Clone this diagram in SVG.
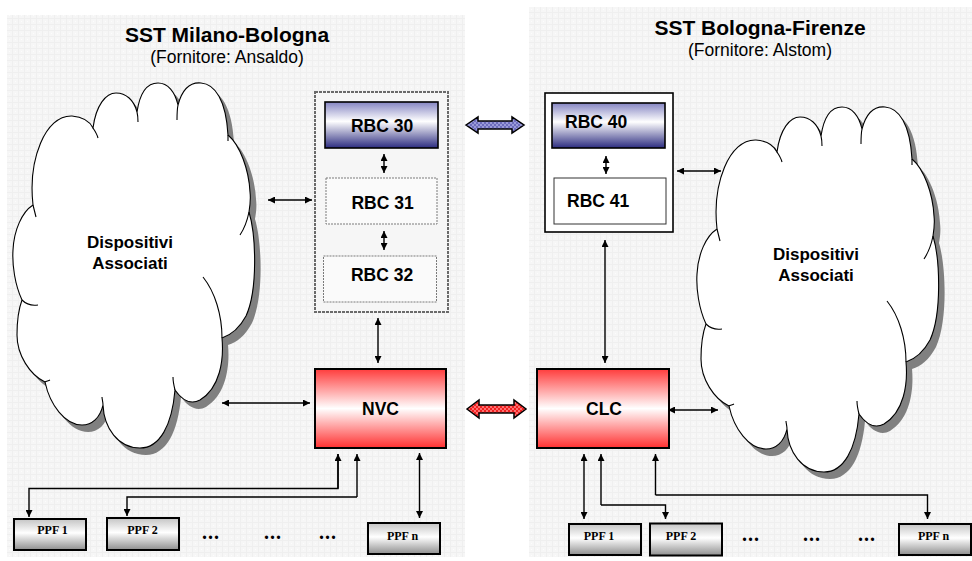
<svg xmlns="http://www.w3.org/2000/svg" xmlns:xlink="http://www.w3.org/1999/xlink" width="972" height="561" viewBox="0 0 972 561">
  <style>
    .title { font-family: "Liberation Sans", Arial, sans-serif; font-weight: bold; font-size: 21px; fill: #000; text-anchor: middle; }
    .sub { font-family: "Liberation Sans", Arial, sans-serif; font-size: 17.5px; fill: #000; text-anchor: middle; }
    .lbl { font-family: "Liberation Sans", Arial, sans-serif; font-weight: bold; font-size: 17.5px; fill: #000; text-anchor: middle; }
    .cl { font-family: "Liberation Sans", Arial, sans-serif; font-weight: bold; font-size: 17px; fill: #000; text-anchor: middle; }
    .lbl-l { font-family: "Liberation Sans", Arial, sans-serif; font-weight: bold; font-size: 17.5px; fill: #000; }
    .ppf { font-family: "Liberation Serif", "Times New Roman", serif; font-weight: bold; font-size: 12px; fill: #000; text-anchor: middle; }
    .dots { font-family: "Liberation Serif", "Times New Roman", serif; font-weight: bold; font-size: 20px; fill: #000; text-anchor: middle; letter-spacing: 1px; }
    .panel { fill: url(#texture); }
    .cloud { fill: #fff; stroke: #000; stroke-width: 1.1; }
    .cloud-shadow { fill: #808080; }
    .tail { fill: none; stroke: #000; stroke-width: 1.1; }
    .conn { fill: none; stroke: #000; stroke-width: 1.4; }
    .two { marker-start: url(#ah); marker-end: url(#ah); }
    .one { marker-end: url(#ah); }
    .box-blue { fill: url(#gBlue); stroke: #000; stroke-width: 1.6; }
    .box-red { fill: url(#gRed); stroke: #000; stroke-width: 2; }
    .box-ppf { fill: url(#gGray); stroke: #000; stroke-width: 2; }
    .box-dot { fill: #fafafa; stroke: #7a7a7a; stroke-width: 1; stroke-dasharray: 2 1; }
  </style>
  <defs>
    <pattern id="texture" width="6" height="6" patternUnits="userSpaceOnUse">
      <rect width="6" height="6" fill="#f6f6f6"/>
      <path d="M0,0.5 H6 M0.5,0 V6" stroke="#efefef" stroke-width="1"/>
      <rect x="3" y="3" width="1" height="1" fill="#fcfcfc"/>
    </pattern>
    <pattern id="chkBlue" width="4" height="4" patternUnits="userSpaceOnUse">
      <rect width="4" height="4" fill="#6c6cbc"/>
      <rect width="2" height="2" fill="#9a9ad8"/>
      <rect x="2" y="2" width="2" height="2" fill="#9a9ad8"/>
    </pattern>
    <pattern id="chkRed" width="4" height="4" patternUnits="userSpaceOnUse">
      <rect width="4" height="4" fill="#f02020"/>
      <rect width="2" height="2" fill="#ff7070"/>
      <rect x="2" y="2" width="2" height="2" fill="#ff7070"/>
    </pattern>
    <linearGradient id="gBlue" x1="0" y1="0" x2="0" y2="1">
      <stop offset="0" stop-color="#8585c2"/>
      <stop offset="0.42" stop-color="#ffffff"/>
      <stop offset="1" stop-color="#2c2c80"/>
    </linearGradient>
    <linearGradient id="gRed" x1="0" y1="0" x2="0" y2="1">
      <stop offset="0" stop-color="#ff3c3c"/>
      <stop offset="0.5" stop-color="#ffffff"/>
      <stop offset="1" stop-color="#ff3030"/>
    </linearGradient>
    <linearGradient id="gGray" x1="0" y1="0" x2="0" y2="1">
      <stop offset="0" stop-color="#c4c4c4"/>
      <stop offset="0.45" stop-color="#ffffff"/>
      <stop offset="1" stop-color="#8e8e8e"/>
    </linearGradient>
    <marker id="ah" viewBox="0 0 10 10" refX="10" refY="5" markerWidth="7" markerHeight="7" markerUnits="userSpaceOnUse" orient="auto-start-reverse">
      <path d="M0,0 L10,5 L0,10 z" fill="#000"/>
    </marker>
    <!-- cloud outline, drawn at the left-hand position -->
    <path id="cloudPath" d="M33,205 C28,160 45,115 72,116 C84,117 90,122 93,128 C96,105 106,93 116,93 C126,93 134,100 137,112 C140,92 148,83 158,83 C168,83 175,92 178,105 C182,90 190,82 201,83 C215,84 226,100 228,135 C240,145 249,170 250,192 C251,200 250,206 249,212 C256,235 258,290 246,316 C239,329 231,335 222,338 C224,360 220,388 200,400 C191,405 182,400 175,390 C172,425 160,448 140,448 C118,448 104,428 103,405 C100,418 92,425 82,425 C65,425 50,405 45,382 C30,375 17,355 17,335 C17,320 19,308 22,300 C15,285 12,265 13,250 C14,230 22,212 33,205 Z"/>
    <g id="cloud">
      <use xlink:href="#cloudPath" href="#cloudPath" class="cloud-shadow" transform="translate(6,7)"/>
      <use xlink:href="#cloudPath" href="#cloudPath" class="cloud"/>
      <path class="tail" d="M33,205 C34,209 35,213 36,217 M22,300 C26,304 32,306 38,305 M45,382 C46,381 48,381 50,380 M103,405 C103,402 102,399 102,397 M175,390 C174,386 173,381 173,377 M222,338 C222,315 215,292 203,277 M249,212 C247,222 244,229 240,235 M228,135 L228,141 M178,105 C177,110 177,115 177,120 M137,112 C138,116 138,119 138,122 M93,128 C95,131 97,134 98,138"/>
    </g>
  </defs>

  <rect width="972" height="561" fill="#fff"/>

  <!-- subsystem panels -->
  <g id="panel-milano-bologna">
    <rect class="panel" x="7" y="15" width="458" height="542"/>
    <text class="title" x="227" y="42">SST Milano-Bologna</text>
    <text class="sub" x="227" y="63">(Fornitore: Ansaldo)</text>
  </g>
  <g id="panel-bologna-firenze">
    <rect class="panel" x="529" y="7" width="443" height="550"/>
    <text class="title" x="760" y="35">SST Bologna-Firenze</text>
    <text class="sub" x="760" y="56">(Fornitore: Alstom)</text>
  </g>

  <!-- associated devices -->
  <g id="cloud-left">
    <use xlink:href="#cloud" href="#cloud"/>
    <text class="cl" x="130" y="248">Dispositivi</text>
    <text class="cl" x="130" y="269">Associati</text>
  </g>
  <g id="cloud-right">
    <use xlink:href="#cloud" href="#cloud" transform="translate(684,24)"/>
    <text class="cl" x="816" y="260">Dispositivi</text>
    <text class="cl" x="816" y="281">Associati</text>
  </g>

  <!-- RBC groups -->
  <g id="rbc-group-left">
    <rect x="315" y="92" width="133" height="220" fill="#f6f6f6" stroke="#6a6a6a" stroke-width="2" stroke-dasharray="3 1"/>
  </g>
  <g id="rbc30">
    <rect class="box-blue" x="325" y="102" width="113" height="46"/>
    <text class="lbl" x="382" y="132">RBC 30</text>
  </g>
  <g id="rbc31">
    <rect class="box-dot" x="326" y="178" width="111" height="46"/>
    <text class="lbl" x="382.5" y="209">RBC 31</text>
  </g>
  <g id="rbc32">
    <rect class="box-dot" x="323.5" y="256" width="113" height="46"/>
    <text class="lbl" x="382" y="281">RBC 32</text>
  </g>

  <g id="rbc-group-right">
    <rect x="545" y="93" width="128" height="139" fill="#fff" stroke="#000" stroke-width="1.6"/>
  </g>
  <g id="rbc40">
    <rect class="box-blue" x="552" y="103" width="113" height="45"/>
    <text class="lbl-l" x="565" y="128">RBC 40</text>
  </g>
  <g id="rbc41">
    <rect x="554" y="178" width="112" height="46" fill="#fff" stroke="#333" stroke-width="1"/>
    <text class="lbl-l" x="567" y="207">RBC 41</text>
  </g>

  <!-- NVC / CLC -->
  <g id="nvc">
    <rect class="box-red" x="315" y="369" width="131" height="79"/>
    <text class="lbl" x="380.5" y="415">NVC</text>
  </g>
  <g id="clc">
    <rect class="box-red" x="537" y="369" width="132" height="79"/>
    <text class="lbl" x="604" y="415">CLC</text>
  </g>

  <!-- PPF boxes -->
  <g id="ppf1-left">
    <rect class="box-ppf" x="14" y="519" width="72" height="31"/>
    <text class="ppf" x="52.5" y="534">PPF 1</text>
  </g>
  <g id="ppf2-left">
    <rect class="box-ppf" x="107" y="518" width="72" height="32"/>
    <text class="ppf" x="142.5" y="534">PPF 2</text>
  </g>
  <g id="ppfn-left">
    <rect class="box-ppf" x="368" y="523" width="72" height="31"/>
    <text class="ppf" x="402.5" y="540">PPF n</text>
  </g>
  <g id="ppf1-right">
    <rect class="box-ppf" x="569" y="524" width="72" height="31"/>
    <text class="ppf" x="599" y="540">PPF 1</text>
  </g>
  <g id="ppf2-right">
    <rect class="box-ppf" x="650" y="523.5" width="72" height="32"/>
    <text class="ppf" x="681" y="540">PPF 2</text>
  </g>
  <g id="ppfn-right">
    <rect class="box-ppf" x="899" y="524" width="72" height="31"/>
    <text class="ppf" x="933.5" y="540">PPF n</text>
  </g>

  <g id="ellipses">
    <text class="dots" x="211" y="539">...</text>
    <text class="dots" x="273" y="539">...</text>
    <text class="dots" x="328" y="539">...</text>
    <text class="dots" x="751" y="541">...</text>
    <text class="dots" x="812" y="541">...</text>
    <text class="dots" x="867" y="541">...</text>
  </g>

  <!-- connectors -->
  <g id="connectors">
    <!-- inter-system links -->
    <polygon points="466,125 478,117 478,121 512,121 512,117 524,125 512,133 512,129 478,129 478,133" fill="url(#chkBlue)" stroke="#000" stroke-width="1.5" stroke-linejoin="miter"/>
    <polygon points="467,409 479,400 479,405 514,405 514,400 526,409 514,418 514,413 479,413 479,418" fill="url(#chkRed)" stroke="#000" stroke-width="1.5" stroke-linejoin="miter"/>

    <!-- left side -->
    <line class="conn two" x1="384" y1="154" x2="384" y2="173"/>
    <line class="conn two" x1="384" y1="231" x2="384" y2="250"/>
    <line class="conn two" x1="268" y1="200" x2="312" y2="200"/>
    <line class="conn two" x1="378" y1="318" x2="378" y2="363"/>
    <line class="conn two" x1="222" y1="403" x2="310" y2="403"/>
    <polyline class="conn one" points="338,454 338,488.5 29,488.5 29,517"/>
    <line class="conn one" x1="338" y1="488.5" x2="338" y2="454"/>
    <polyline class="conn one" points="357,497 127,497 127,516"/>
    <line class="conn one" x1="357" y1="497" x2="357" y2="454"/>
    <line class="conn two" x1="419.5" y1="453" x2="419.5" y2="518"/>

    <!-- right side -->
    <line class="conn two" x1="606" y1="156" x2="606" y2="174"/>
    <line class="conn two" x1="677" y1="171" x2="721" y2="171"/>
    <line class="conn two" x1="605" y1="240" x2="605" y2="363"/>
    <line class="conn two" x1="668" y1="410" x2="718" y2="410"/>
    <line class="conn two" x1="584" y1="454" x2="584" y2="519"/>
    <polyline class="conn one" points="601,505 665.5,505 665.5,519"/>
    <line class="conn one" x1="601" y1="505" x2="601" y2="454"/>
    <polyline class="conn one" points="655.5,495 927.5,495 927.5,519"/>
    <line class="conn one" x1="655.5" y1="495" x2="655.5" y2="454"/>
  </g>
</svg>
